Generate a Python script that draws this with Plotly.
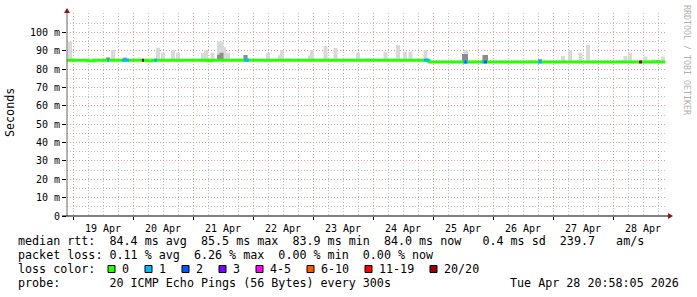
import plotly.graph_objects as go
import pandas as pd
import numpy as np

# ---------------- data ----------------
# median rtt (ms), step function
med_time = ["2026-04-18 21:36", "2026-04-19 05:36", "2026-04-19 08:24",
            "2026-04-20 05:36", "2026-04-20 07:36", "2026-04-21 06:00",
            "2026-04-21 07:12", "2026-04-24 22:24", "2026-04-28 20:58"]
med_val = [85.0, 84.6, 85.0, 84.6, 85.0, 84.6, 85.0, 84.0, 84.0]

# loss coloured segments of the median line
loss_start = ["2026-04-19 13:36", "2026-04-19 19:36", "2026-04-20 03:36", "2026-04-20 08:24",
              "2026-04-21 20:24", "2026-04-24 20:24", "2026-04-25 12:00", "2026-04-25 12:36",
              "2026-04-25 19:36", "2026-04-25 20:24", "2026-04-26 18:00", "2026-04-28 10:24"]
loss_end = ["2026-04-19 14:24", "2026-04-19 22:24", "2026-04-20 04:24", "2026-04-20 09:36",
            "2026-04-21 22:24", "2026-04-24 22:24", "2026-04-25 14:00", "2026-04-25 13:24",
            "2026-04-25 20:24", "2026-04-25 21:36", "2026-04-26 19:36", "2026-04-28 11:36"]
loss_class = [1, 1, 7, 1, 1, 1, 1, 2, 1, 2, 1, 7]

# smoke (ping spread) – top of light smoke and top of darker core smoke (ms)
smoke_time = ["2026-04-18 22:48", "2026-04-19 14:00", "2026-04-19 16:00", "2026-04-19 20:48",
              "2026-04-20 10:00", "2026-04-20 12:00", "2026-04-20 16:00", "2026-04-20 18:00",
              "2026-04-21 04:00", "2026-04-21 05:12", "2026-04-21 07:48", "2026-04-21 10:24",
              "2026-04-21 11:24", "2026-04-21 12:24", "2026-04-21 14:00", "2026-04-21 21:00",
              "2026-04-21 22:00", "2026-04-22 06:00", "2026-04-22 10:48", "2026-04-22 11:36",
              "2026-04-22 14:00", "2026-04-22 22:48", "2026-04-22 23:36", "2026-04-23 05:00",
              "2026-04-23 09:00", "2026-04-23 18:00", "2026-04-23 22:00", "2026-04-24 05:00",
              "2026-04-24 09:00", "2026-04-24 10:00", "2026-04-24 12:48", "2026-04-24 15:00",
              "2026-04-24 21:00", "2026-04-25 12:24", "2026-04-25 13:12", "2026-04-25 20:36",
              "2026-04-25 21:12", "2026-04-26 14:48", "2026-04-26 18:48", "2026-04-27 04:00",
              "2026-04-27 06:48", "2026-04-27 11:00", "2026-04-27 14:00", "2026-04-28 05:00",
              "2026-04-28 06:48", "2026-04-28 13:00", "2026-04-28 16:00", "2026-04-28 18:00",
              "2026-04-28 20:00"]
smoke_top = [95.0, 86.5, 90.5, 86.5, 91.8, 89.0, 90.5, 89.0,
             89.0, 90.5, 89.0, 95.0, 95.0, 92.0, 89.0, 87.8,
             86.0, 89.0, 87.7, 90.5, 86.0, 87.7, 90.5, 92.7,
             91.6, 89.0, 86.0, 89.6, 86.0, 93.3, 89.6, 89.6,
             90.5, 88.4, 90.5, 87.8, 87.8, 85.0, 85.5, 87.3,
             90.5, 89.0, 93.3, 87.3, 89.0, 87.0, 85.5, 85.0, 87.0]
smoke_dark = [None, 86.5, None, 86.3, None, None, None, None,
              None, None, None, 88.0, 89.0, None, None, 87.8,
              None, None, None, None, None, None, None, None,
              None, None, None, None, None, None, None, None,
              None, 88.4, 88.4, 87.8, 87.8, None, 85.5, None,
              None, None, None, None, None, None, None, 85.0, None]

loss_labels = ["0", "1", "2", "3", "4-5", "6-10", "11-19", "20/20"]
loss_colors = ["#26ff00", "#00b8ff", "#0059ff", "#7e00ff", "#ff00ff", "#ff5500", "#ff0000", "#a10000"]

y_tickvals = [0, 10, 20, 30, 40, 50, 60, 70, 80, 90, 100]
y_ticktext = ["0", "10 m", "20 m", "30 m", "40 m", "50 m", "60 m", "70 m", "80 m", "90 m", "100 m"]

# ---------------- layout geometry ----------------
W, H = 697, 297
L, R, T, B = 67, 30, 13, 81
PW, PH = W - L - R, H - T - B
FONT = "DejaVu Sans Mono"


def px(x):
    return (x - L) / PW


def py(y):
    return (H - B - y) / PH


med_t = pd.to_datetime(med_time)
med_s = pd.Series(med_val, index=med_t)


def med_at(t):
    idx = med_s.index.searchsorted(pd.Timestamp(t), side="right") - 1
    return med_s.iloc[max(idx, 0)]


fig = go.Figure()

# smoke drawn as filled rectangles (light part, then darker core)
half = pd.Timedelta(minutes=48)


def rects(times, tops):
    xs, ys = [], []
    for t, tp in zip(times, tops):
        if tp is None:
            continue
        t = pd.Timestamp(t)
        b = med_at(t)
        xs += [t - half, t - half, t + half, t + half, t - half, None]
        ys += [b, tp, tp, b, b, None]
    return xs, ys


sx, sy = rects(smoke_time, smoke_top)
fig.add_trace(go.Scatter(x=sx, y=sy, mode="lines", fill="toself", fillcolor="#d9d9d9",
                         line=dict(width=0, color="#d9d9d9"), hoverinfo="skip"))
dx, dy = rects(smoke_time, smoke_dark)
fig.add_trace(go.Scatter(x=dx, y=dy, mode="lines", fill="toself", fillcolor="#8c8c8c",
                         line=dict(width=0, color="#8c8c8c"), hoverinfo="skip"))

# median line (0 loss)
fig.add_trace(go.Scatter(x=med_t, y=med_val, mode="lines",
                         line=dict(color=loss_colors[0], width=3, shape="hv"), hoverinfo="skip"))

# loss coloured segments
for c in sorted(set(loss_class)):
    xs, ys = [], []
    for s, e, k in zip(loss_start, loss_end, loss_class):
        if k == c:
            v = med_at(s)
            xs += [pd.Timestamp(s), pd.Timestamp(e), None]
            ys += [v, v, None]
    fig.add_trace(go.Scatter(x=xs, y=ys, mode="lines",
                             line=dict(color=loss_colors[c], width=3), hoverinfo="skip"))

mgrid = "rgba(215,120,120,0.75)"
grid = "rgba(170,170,170,0.75)"
dash = "1px,2px"

fig.update_layout(
    width=W, height=H, margin=dict(l=L, r=R, t=T, b=B),
    paper_bgcolor="white", plot_bgcolor="white",
    showlegend=False,
    font=dict(family=FONT, size=10, color="#000"),
    xaxis=dict(type="date", range=["2026-04-18 21:36", "2026-04-28 21:36"],
               tick0="2026-04-19", dtick=86400000, ticklabelmode="period",
               tickformat="%d %b", ticks="outside", ticklen=3, tickcolor="#000",
               showgrid=True, gridcolor=mgrid, griddash=dash, gridwidth=1,
               minor=dict(dtick=21600000, tick0="2026-04-19", showgrid=True,
                          gridcolor=grid, griddash=dash, ticks=""),
               showline=False, zeroline=False,
               tickfont=dict(family=FONT, size=10, color="#000")),
    yaxis=dict(range=[0, 110.7], tickmode="array", tickvals=y_tickvals, ticktext=y_ticktext,
               ticks="outside", ticklen=4, tickcolor="#000",
               showgrid=True, gridcolor=mgrid, griddash=dash, gridwidth=1,
               minor=dict(tickmode="array", tickvals=[5, 15, 25, 35, 45, 55, 65, 75, 85, 95, 105],
                          showgrid=True, gridcolor=grid, griddash=dash, ticks=""),
               showline=False, zeroline=False,
               tickfont=dict(family=FONT, size=10, color="#000")),
)

shapes = []
# axes lines and arrows
shapes.append(dict(type="line", xref="paper", yref="paper", x0=px(67), x1=px(67),
                   y0=py(216), y1=py(9), line=dict(color="#666", width=1)))
shapes.append(dict(type="line", xref="paper", yref="paper", x0=px(62), x1=px(669),
                   y0=py(216), y1=py(216), line=dict(color="#000", width=1)))
shapes.append(dict(type="path", xref="paper", yref="paper",
                   path=f"M {px(64)} {py(13)} L {px(70)} {py(13)} L {px(67)} {py(8)} Z",
                   fillcolor="#8b1a1a", line=dict(width=0)))
shapes.append(dict(type="path", xref="paper", yref="paper",
                   path=f"M {px(668)} {py(213)} L {px(668)} {py(219)} L {px(673)} {py(216)} Z",
                   fillcolor="#8b1a1a", line=dict(width=0)))

ann = []
LF = 11.7
ann.append(dict(text="Seconds", x=px(10), y=py(113), xref="paper", yref="paper",
                textangle=-90, showarrow=False, font=dict(family=FONT, size=LF, color="#000"),
                xanchor="center", yanchor="middle"))
ann.append(dict(text="RRDTOOL / TOBI OETIKER", x=px(687), y=py(60), xref="paper", yref="paper",
                textangle=90, showarrow=False, font=dict(family=FONT, size=8.3, color="#b0b0b0"),
                xanchor="center", yanchor="middle"))

lines = [
    "median rtt:  84.4 ms avg  85.5 ms max  83.9 ms min  84.0 ms now   0.4 ms sd  239.7   am/s",
    "packet loss: 0.11 % avg  6.26 % max  0.00 % min  0.00 % now",
    "loss color:",
    "probe:       20 ICMP Echo Pings (56 Bytes) every 300s",
]
ys_ = [241, 255, 269, 283]
for s, yv in zip(lines, ys_):
    ann.append(dict(text=s.replace(" ", "&nbsp;"), x=px(16), y=py(yv), xref="paper", yref="paper",
                    showarrow=False, xanchor="left", yanchor="middle",
                    font=dict(family=FONT, size=LF, color="#000")))
ann.append(dict(text="Tue Apr 28 20:58:05 2026", x=px(681), y=py(283), xref="paper", yref="paper",
                showarrow=False, xanchor="right", yanchor="middle",
                font=dict(family=FONT, size=LF, color="#000")))

bx = 108
for lab, col in zip(loss_labels, loss_colors):
    shapes.append(dict(type="rect", xref="paper", yref="paper",
                       x0=px(bx), x1=px(bx + 7), y0=py(272.5), y1=py(265.5),
                       fillcolor=col, line=dict(color="#000", width=1)))
    ann.append(dict(text=lab, x=px(bx + 12), y=py(269), xref="paper", yref="paper",
                    showarrow=False, xanchor="left", yanchor="middle",
                    font=dict(family=FONT, size=LF, color="#000")))
    bx += 30 + 7 * len(lab)

fig.update_layout(shapes=shapes, annotations=ann)
fig.write_html("out.html", config={"displayModeBar": False})
